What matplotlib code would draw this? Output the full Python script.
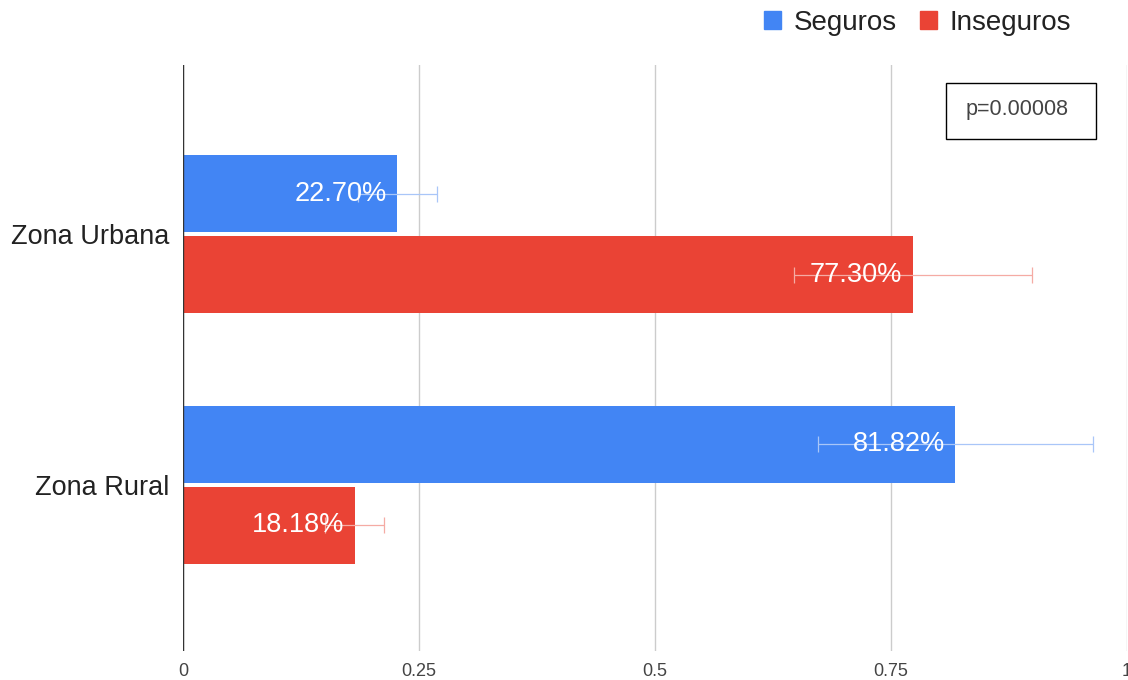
import numpy as np
import matplotlib.pyplot as plt
from matplotlib.patches import Patch, Rectangle

plt.rcParams['font.family'] = ['Liberation Sans', 'DejaVu Sans']

# data
zones = ['Zona Urbana', 'Zona Rural']
seguros = [0.2270, 0.8182]
inseguros = [0.7730, 0.1818]
seguros_err = [0.042, 0.146]
inseguros_err = [0.126, 0.031]
x_ticks = [0, 0.25, 0.5, 0.75, 1]
x_labels = ['0', '0.25', '0.5', '0.75', '1']
p_text = 'p=0.00008'

blue = '#4285F4'
red = '#EA4335'
blue_err = '#A9C6F8'
red_err = '#F5ABA4'

fig = plt.figure(figsize=(11.28, 6.8), dpi=100)
ax = fig.add_axes([183 / 1128, 1 - 651 / 680, 944 / 1128, 586 / 680])

y = np.arange(len(zones))
h = 0.308
off = 0.162

ax.barh(y - off, seguros, height=h, color=blue, zorder=2)
ax.barh(y + off, inseguros, height=h, color=red, zorder=2)

ax.errorbar(seguros, y - off, xerr=seguros_err, fmt='none', ecolor=blue_err,
            elinewidth=0.9, capsize=6, capthick=0.9, zorder=3)
ax.errorbar(inseguros, y + off, xerr=inseguros_err, fmt='none', ecolor=red_err,
            elinewidth=0.9, capsize=6, capthick=0.9, zorder=3)

# value labels inside the bars
for yy, v in zip(y - off, seguros):
    ax.text(v - 0.011, yy, '%.2f%%' % (v * 100), color='white', fontsize=19.5,
            ha='right', va='center', zorder=4)
for yy, v in zip(y + off, inseguros):
    ax.text(v - 0.011, yy, '%.2f%%' % (v * 100), color='white', fontsize=19.5,
            ha='right', va='center', zorder=4)

ax.set_xlim(0, 1)
ax.set_ylim(1.664, -0.676)
ax.set_xticks(x_ticks)
ax.set_xticklabels(x_labels, fontsize=13, color='#444444')
ax.set_yticks(y)
ax.set_yticklabels(zones, fontsize=19.5, color='#222222')
ax.tick_params(axis='x', length=0, pad=9)
ax.tick_params(axis='y', length=0, pad=10)
for s in ax.spines.values():
    s.set_visible(False)
ax.grid(axis='x', color='#cccccc', linewidth=1, zorder=0)
ax.axvline(0, color='#333333', linewidth=1, zorder=5)

# p-value box
ax.add_patch(Rectangle((946 / 1128, 1 - 139 / 680), 150 / 1128, 56 / 680,
                       transform=fig.transFigure, fill=False, edgecolor='black',
                       linewidth=1, zorder=6))
fig.text(1017 / 1128, 1 - 110 / 680, p_text, fontsize=15.5, color='#444444',
         ha='center', va='center')

handles = [Patch(color=blue, label='Seguros'), Patch(color=red, label='Inseguros')]
fig.legend(handles=handles, loc='center right', bbox_to_anchor=(1071 / 1128, 1 - 23 / 680),
           ncol=2, frameon=False, fontsize=20, handlelength=0.6, handleheight=0.6,
           handletextpad=0.45, columnspacing=0.85, labelcolor='#222222',
           borderpad=0, borderaxespad=0)

fig.savefig('out.png', dpi=100)
